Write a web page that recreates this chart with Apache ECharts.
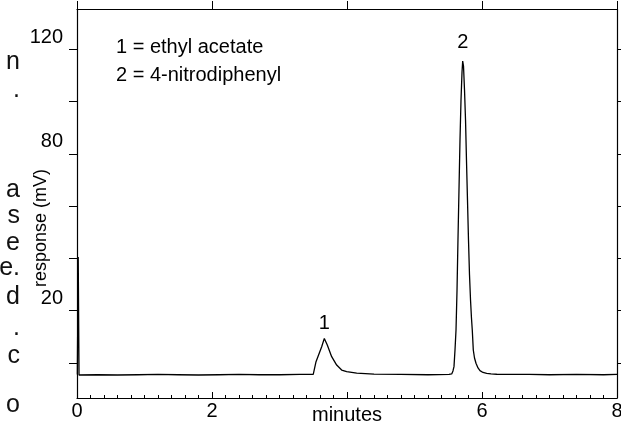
<!DOCTYPE html>
<html>
<head>
<meta charset="utf-8">
<script src="https://cdn.jsdelivr.net/npm/echarts@6/dist/echarts.min.js"></script>
<style>
html,body{margin:0;padding:0;background:#fff;}
#chart{width:621px;height:425px;}
</style>
</head>
<body>
<div id="chart"></div>
<script>
// ---- data ----
const timeMin = [
  0.005, 0.018, 0.03, 0.3, 0.6, 0.9, 1.2, 1.5, 1.8, 2.1, 2.4, 2.7, 3.0, 3.3, 3.5,
  3.516, 3.541, 3.570, 3.625, 3.664, 3.708, 3.773, 3.847, 3.921, 3.995, 4.144,
  4.4, 4.8, 5.2, 5.511,
  5.551, 5.570, 5.585, 5.600, 5.615, 5.630, 5.644, 5.659, 5.674, 5.689, 5.704, 5.714,
  5.726, 5.741, 5.756, 5.770, 5.785, 5.800, 5.815, 5.830, 5.844, 5.856, 5.871, 5.889,
  5.911, 5.941, 5.970, 6.015, 6.070, 6.133, 6.218, 6.341,
  6.7, 7.0, 7.4, 7.8, 8.0
];
const responseMv = [
  -4.4, 40.5, -4.6, -4.5, -4.6, -4.5, -4.4, -4.5, -4.6, -4.5, -4.4, -4.5, -4.5, -4.4, -4.4,
  -4.2, 0.5, 0.9, 6.2, 9.4, 6.9, 2.4, -0.8, -2.7, -3.3, -3.9,
  -4.3, -4.4, -4.5, -4.4,
  -4.21, -3.06, -1.41, 4.97, 12.62, 27.92, 47.04, 66.16, 85.28, 100.57, 111.28, 115.49,
  113.58, 104.40, 92.93, 77.63, 62.33, 47.04, 33.65, 24.09, 17.21, 12.62, 4.97, 1.91,
  -0.11, -1.91, -2.94, -3.63, -3.94, -4.21, -4.32, -4.40,
  -4.4, -4.5, -4.4, -4.5, -4.4
];
const peakLabels = ['1', '2'];
const peakTimes = [3.664, 5.714];
const peakValues = [9.4, 115.49];
const legendLines = ['1 = ethyl acetate', '2 = 4-nitrodiphenyl'];
const yTickValues = [0, 20, 40, 60, 80, 100, 120];
const yLabelValues = [20, 80, 120];
const xAxisTitle = 'minutes';
const yAxisTitle = 'response (mV)';
const marginGlyphs = [
  ['n', 62], ['.', 90], ['a', 190], ['s', 216], ['e', 243], ['e.', 268],
  ['d', 297], ['.', 328], ['c', 356], ['o', 405]
];

// ---- chart ----
const FONT = '"Liberation Sans", Arial, sans-serif';
const chart = echarts.init(document.getElementById('chart'), null, {renderer: 'canvas'});
const seriesData = timeMin.map((t, i) => [t, responseMv[i]]);

const graphics = [];
legendLines.forEach((s, i) => {
  graphics.push({
    type: 'text', left: 116, top: 37 + i * 28,
    style: {text: s, fill: '#000', font: '20px ' + FONT}
  });
});
graphics.push({
  type: 'text', rotation: Math.PI / 2, x: 32, y: 228,
  style: {text: yAxisTitle, fill: '#000', font: '18px ' + FONT, align: 'center', verticalAlign: 'top'}
});
marginGlyphs.forEach(([g, y]) => {
  graphics.push({
    type: 'text', x: 20, y: y,
    style: {text: g, fill: '#111', font: '25px ' + FONT, align: 'right', verticalAlign: 'middle'}
  });
});

const axisLineStyle = {color: '#000', width: 1.2};
chart.setOption({
  animation: false,
  backgroundColor: '#fff',
  grid: {left: 77, right: 4, top: 9, bottom: 27, containLabel: false, outerBoundsMode: 'none'},
  xAxis: [
    {
      type: 'value', position: 'bottom', min: 0, max: 8, interval: 2,
      axisLine: {show: true, onZero: false, lineStyle: axisLineStyle},
      axisTick: {show: true, inside: true, length: 6, lineStyle: {color: '#000'}},
      minorTick: {show: true, splitNumber: 10, length: 3, lineStyle: {color: '#000'}},
      splitLine: {show: false},
      axisLabel: {
        show: true, color: '#000', fontSize: 20, fontFamily: FONT, margin: 3,
        formatter: v => v === 4 ? '{m|' + xAxisTitle + '}' : String(v),
        rich: {m: {fontSize: 20, fontFamily: FONT, color: '#000', padding: [4, 0, 0, 0]}}
      }
    },
    {
      type: 'value', position: 'top', min: 0, max: 8, interval: 2,
      axisLine: {show: true, onZero: false, lineStyle: axisLineStyle},
      axisTick: {show: true, inside: false, length: 8, lineStyle: {color: '#000'}},
      axisLabel: {show: false}, splitLine: {show: false}
    }
  ],
  yAxis: [
    {
      type: 'value', position: 'left', min: -13.4, max: 135.4,
      axisLine: {show: true, onZero: false, lineStyle: axisLineStyle},
      axisTick: {show: true, inside: false, length: 8, customValues: yTickValues, lineStyle: {color: '#000'}},
      axisLabel: {
        show: true, customValues: yLabelValues, color: '#000', fontSize: 20, fontFamily: FONT,
        margin: 14, verticalAlign: 'bottom', lineHeight: 20, padding: [0, 0, 2, 0]
      },
      splitLine: {show: false}
    },
    {
      type: 'value', position: 'right', min: -13.4, max: 135.4,
      axisLine: {show: true, onZero: false, lineStyle: axisLineStyle},
      axisTick: {show: true, inside: false, length: 6, customValues: yTickValues, lineStyle: {color: '#000'}},
      axisLabel: {show: false}, splitLine: {show: false}
    }
  ],
  graphic: graphics,
  series: [{
    type: 'line', data: seriesData, showSymbol: false, symbol: 'none',
    lineStyle: {color: '#000', width: 1.3}, smooth: false,
    markPoint: {
      symbol: 'rect', symbolSize: 1, itemStyle: {color: 'rgba(0,0,0,0)'},
      label: {show: true, color: '#000', fontSize: 20, fontFamily: FONT, position: 'inside', formatter: p => p.name},
      data: peakLabels.map((n, i) => ({name: n, coord: [peakTimes[i], peakValues[i]], label: {offset: [0, i === 0 ? -15 : -19]}}))
    }
  }]
});
</script>
</body>
</html>
